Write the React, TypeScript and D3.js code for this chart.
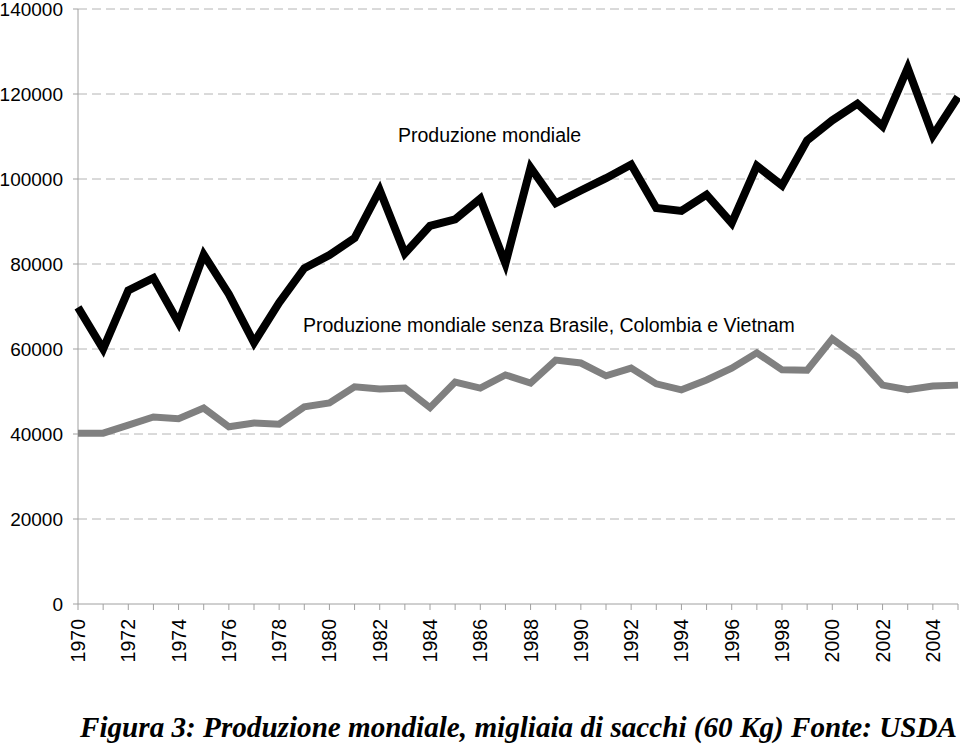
import React from "react";
import * as d3 from "d3";

const years: number[] = d3.range(1970, 2006);
const worldProduction: number[] = [
  69800, 60000, 73800, 76700, 66200, 82200, 72900, 61500, 70900, 79000,
  82100, 86100, 97400, 82500, 89000, 90500, 95400, 80100, 102700, 94300,
  97300, 100200, 103400, 93200, 92500, 96300, 89600, 103100, 98500, 109100,
  113800, 117700, 112400, 126100, 110200, 119300,
];
const worldWithoutBCV: number[] = [
  40200, 40200, 42100, 44000, 43600, 46100, 41700, 42600, 42300, 46400,
  47300, 51100, 50600, 50800, 46200, 52200, 50800, 53900, 52000, 57400,
  56700, 53700, 55500, 51800, 50400, 52700, 55500, 59100, 55100, 55000,
  62400, 58100, 51500, 50400, 51300, 51500,
];
const yTicks: number[] = [0, 20000, 40000, 60000, 80000, 100000, 120000, 140000];
const xLabelYears: number[] = d3.range(1970, 2006, 2);
const labelMain = "Produzione mondiale";
const labelSub = "Produzione mondiale senza Brasile, Colombia e Vietnam";
const caption = "Figura 3: Produzione mondiale, migliaia di sacchi (60 Kg) Fonte: USDA";

export default function App() {
  const W = 960, H = 749;
  const left = 78, right = 958, top = 9, bottom = 604;
  const x = d3.scaleLinear().domain([1970, 2005]).range([left, right]);
  const y = d3.scaleLinear().domain([0, 140000]).range([bottom, top]);
  const line = d3
    .line<number>()
    .x((_, i) => x(years[i]))
    .y((d) => y(d));
  const font = "'Liberation Sans', Arial, sans-serif";
  return (
    <svg
      width={W}
      height={H}
      style={{ position: "absolute", left: 0, top: 0, background: "#fff" }}
    >
      {yTicks.map((t) => (
        <g key={t}>
          {t > 0 && (
            <line
              x1={left}
              x2={right}
              y1={y(t)}
              y2={y(t)}
              stroke="#b4b4b4"
              strokeWidth={1}
              strokeDasharray="9,5"
            />
          )}
          <line x1={left - 5} x2={left} y1={y(t)} y2={y(t)} stroke="#a0a0a0" />
          <text
            x={63}
            y={y(t)}
            dy="0.36em"
            textAnchor="end"
            fontFamily={font}
            fontSize={19}
            fill="#000"
          >
            {t}
          </text>
        </g>
      ))}
      <line x1={left} x2={left} y1={top} y2={bottom} stroke="#a0a0a0" />
      <line x1={left} x2={right} y1={bottom} y2={bottom} stroke="#a0a0a0" />
      {years.map((yr) => (
        <line
          key={yr}
          x1={x(yr)}
          x2={x(yr)}
          y1={bottom}
          y2={bottom + 6}
          stroke="#a0a0a0"
        />
      ))}
      {xLabelYears.map((yr) => (
        <text
          key={yr}
          transform={`translate(${x(yr)},619) rotate(-90)`}
          textAnchor="end"
          dy="0.36em"
          fontFamily={font}
          fontSize={19.5}
          fill="#000"
        >
          {yr}
        </text>
      ))}
      <path
        d={line(worldWithoutBCV) || ""}
        fill="none"
        stroke="#808080"
        strokeWidth={7}
        strokeLinejoin="miter"
      />
      <path
        d={line(worldProduction) || ""}
        fill="none"
        stroke="#000"
        strokeWidth={8}
        strokeLinejoin="miter"
      />
      <text x={398} y={142} fontFamily={font} fontSize={19.5} fill="#000">
        {labelMain}
      </text>
      <text x={303} y={332} fontFamily={font} fontSize={19.5} fill="#000">
        {labelSub}
      </text>
      <text
        x={80}
        y={737}
        fontFamily="'Liberation Serif', 'Times New Roman', serif"
        fontWeight="bold"
        fontStyle="italic"
        fontSize={29}
        textLength={877}
        lengthAdjust="spacingAndGlyphs"
        fill="#000"
      >
        {caption}
      </text>
    </svg>
  );
}
